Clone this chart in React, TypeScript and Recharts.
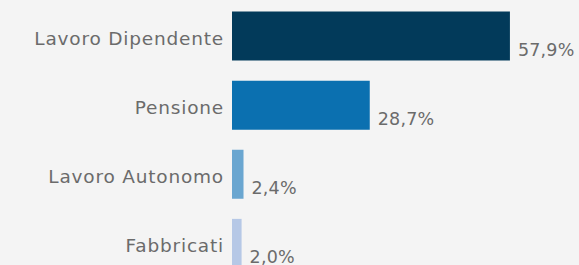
import React from "react";
import { BarChart, Bar, XAxis, YAxis, Cell, LabelList } from "recharts";

const categories = ["Lavoro Dipendente", "Pensione", "Lavoro Autonomo", "Fabbricati"];
const values = [57.9, 28.7, 2.4, 2.0];
const labels = ["57,9%", "28,7%", "2,4%", "2,0%"];
const colors = ["#023a5a", "#0b70b0", "#6aa6d0", "#b6c8e6"];

const data = categories.map((c, i) => ({ name: c, value: values[i], label: labels[i] }));

const FONT = "'DejaVu Sans', sans-serif";

const Tick = (props: any) => {
  const { x, y, payload } = props;
  return (
    <text
      x={x}
      y={y}
      dy={8.5}
      textAnchor="end"
      fill="#6b6b6b"
      fontFamily={FONT}
      fontSize={18.5}
      letterSpacing={0.8}
    >
      {payload.value}
    </text>
  );
};

const ValueLabel = (props: any) => {
  const { x, y, width, height, value } = props;
  return (
    <text
      x={x + width + 8}
      y={y + height - 4.5}
      textAnchor="start"
      fill="#6b6b6b"
      fontFamily={FONT}
      fontSize={17.5}
      letterSpacing={0.2}
    >
      {value}
    </text>
  );
};

export default function App() {
  return (
    <div
      style={{
        position: "fixed",
        left: 0,
        top: 0,
        width: 579,
        height: 265,
        overflow: "hidden",
        background: "#f4f4f4",
      }}
    >
      <BarChart
        width={579}
        height={278}
        data={data}
        layout="vertical"
        margin={{ top: 1.5, right: 59, bottom: 0, left: 0 }}
      >
        <XAxis type="number" domain={[0, 60]} hide />
        <YAxis
          type="category"
          dataKey="name"
          width={232}
          axisLine={false}
          tickLine={false}
          tick={<Tick />}
          interval={0}
        />
        <Bar dataKey="value" barSize={49} isAnimationActive={false}>
          {data.map((d, i) => (
            <Cell key={d.name} fill={colors[i]} />
          ))}
          <LabelList dataKey="label" content={<ValueLabel />} />
        </Bar>
      </BarChart>
    </div>
  );
}
